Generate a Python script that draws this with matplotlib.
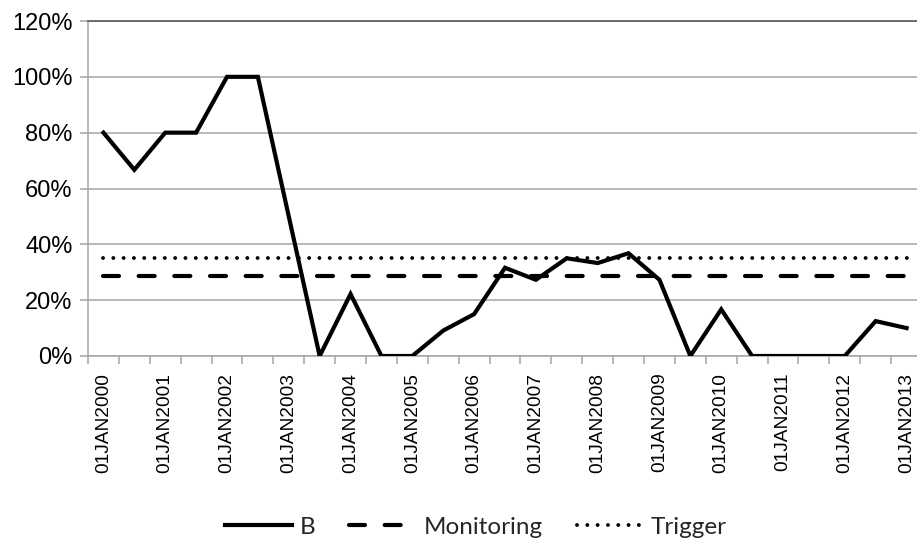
import numpy as np
import matplotlib
matplotlib.use("Agg")
import matplotlib.pyplot as plt
from matplotlib.ticker import FuncFormatter, MultipleLocator
from matplotlib.lines import Line2D

# semi-annual categories, only January ones are labelled
years = list(range(2000, 2014))
dates = []
for y in years:
    dates.append("01JAN%d" % y)
    if y < 2013:
        dates.append("01JUL%d" % y)

b_vals = [80, 66.7, 80, 80, 100, 100, 50, 0, 22.2, 0, 0, 9.1, 15, 31.6,
          27.3, 35, 33.3, 36.8, 27.3, 0, 16.7, 0, 0, 0, 0, 12.5, 10]
monitoring = 28.6
trigger = 35

x = np.arange(len(dates))

fig = plt.figure(figsize=(9.17, 5.48), dpi=100)
ax = fig.add_axes([88/917, 1-356/548, 834/917, (356-21)/548])

dash = (3.84, 4.72)
dot = (0.01, 2.64)
ax.plot(x, b_vals, color="black", lw=3.0, solid_joinstyle="miter", zorder=5)
ax.plot(x, [monitoring]*len(x), color="black", lw=3.0, dashes=dash,
        dash_capstyle="round", zorder=4)
ax.plot(x, [trigger]*len(x), color="black", lw=2.8, dashes=dot,
        dash_capstyle="round", zorder=4)

ax.set_xlim(-0.5, len(x)-0.5)
ax.set_ylim(0, 120)
ax.yaxis.set_major_locator(MultipleLocator(20))
ax.yaxis.set_major_formatter(FuncFormatter(lambda v, p: "%d%%" % v))
ax.grid(axis="y", color="#a6a6a6", lw=1.1)
ax.set_axisbelow(True)

ax.set_xticks(x[::2])
ax.set_xticklabels(dates[::2], rotation=90, fontsize=13.8, family="Liberation Sans")
ax.set_xticks(np.arange(-0.5, len(x)), minor=True)
ax.tick_params(axis="x", which="major", length=0, pad=12)
ax.tick_params(axis="x", which="minor", length=6, color="#a6a6a6", width=1.1)
ax.tick_params(axis="y", length=6, color="#a6a6a6", width=1.1, pad=5)
for lab in ax.get_yticklabels():
    lab.set_fontsize(17)
    lab.set_family("Liberation Sans")

for s in ["left", "bottom"]:
    ax.spines[s].set_color("#a6a6a6")
    ax.spines[s].set_linewidth(1.1)
ax.spines["right"].set_visible(False)
ax.spines["top"].set_color("#595959")
ax.spines["top"].set_linewidth(1.2)

handles = [Line2D([], [], color="black", lw=3.0),
           Line2D([], [], color="black", lw=3.0, dashes=dash, dash_capstyle="round"),
           Line2D([], [], color="black", lw=2.8, dashes=dot, dash_capstyle="round")]
leg = fig.legend(handles, ["B", "Monitoring", "Trigger"], loc="center",
                 bbox_to_anchor=(476/917, 1-527/548), ncol=3, frameon=False,
                 prop={"family": "Lato", "size": 17.5},
                 handlelength=2.75, handletextpad=0.3, columnspacing=1.4)
for t in leg.get_texts():
    t.set_color("#262626")

fig.savefig("out.png", dpi=100)
